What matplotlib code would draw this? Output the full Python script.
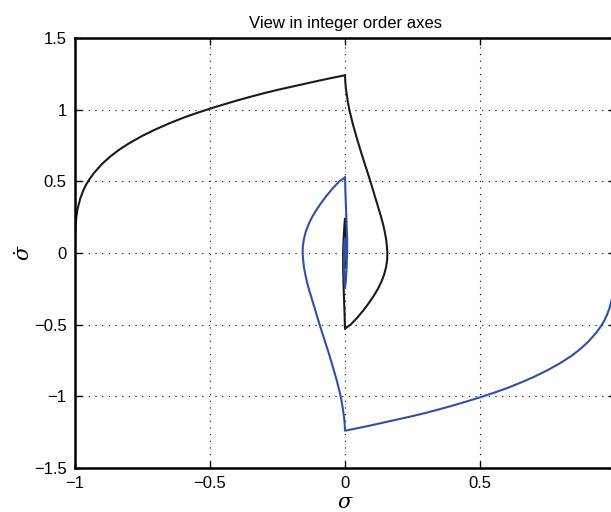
import numpy as np
import matplotlib.pyplot as plt

plt.rcParams['font.family'] = ['Liberation Sans', 'DejaVu Sans']
plt.rcParams['mathtext.fontset'] = 'dejavuserif'

# black trajectory (sigma, sigma_dot)
black_x = [-1.0, -0.999, -0.998, -0.995, -0.99, -0.98, -0.97, -0.96, -0.95, -0.93,
           -0.9, -0.87, -0.84, -0.8, -0.75, -0.7, -0.65, -0.6, -0.55, -0.5,
           -0.45, -0.4, -0.35, -0.3, -0.25, -0.2, -0.15, -0.1, -0.05, 0.0,
           0.001, 0.003, 0.007, 0.011, 0.016, 0.029, 0.044, 0.060, 0.077, 0.094,
           0.110, 0.126, 0.134, 0.141, 0.147, 0.152, 0.155, 0.157, 0.156, 0.152,
           0.145, 0.135, 0.122, 0.106, 0.088, 0.068, 0.046, 0.021, 0.005, 0.0,
           -0.002, -0.005, -0.007, -0.007, -0.005, -0.002, 0.0,
           0.003, 0.004, 0.003, 0.0, -0.001, 0.0]
black_y = [0.0, 0.156, 0.192, 0.253, 0.311, 0.383, 0.433, 0.473, 0.505, 0.558,
           0.621, 0.672, 0.716, 0.765, 0.818, 0.864, 0.905, 0.943, 0.976, 1.007,
           1.036, 1.064, 1.090, 1.115, 1.138, 1.159, 1.180, 1.201, 1.221, 1.24,
           1.2, 1.15, 1.1, 1.05, 1.0, 0.9, 0.8, 0.7, 0.6, 0.5,
           0.4, 0.3, 0.25, 0.2, 0.15, 0.1, 0.05, 0.0, -0.05, -0.1,
           -0.15, -0.2, -0.25, -0.3, -0.35, -0.4, -0.45, -0.5, -0.52, -0.53,
           -0.4, -0.25, -0.1, 0.0, 0.1, 0.2, 0.24,
           0.15, 0.05, -0.05, -0.1, 0.0, 0.05]

# blue trajectory
blue_x = [1.0, 0.999, 0.998, 0.995, 0.99, 0.98, 0.97, 0.96, 0.95, 0.93,
          0.9, 0.87, 0.84, 0.8, 0.75, 0.7, 0.65, 0.6, 0.55, 0.5,
          0.45, 0.4, 0.35, 0.3, 0.25, 0.2, 0.15, 0.1, 0.05, 0.0,
          -0.001, -0.003, -0.007, -0.011, -0.016, -0.029, -0.044, -0.060, -0.077, -0.094,
          -0.110, -0.126, -0.134, -0.141, -0.147, -0.152, -0.155, -0.157, -0.156, -0.152,
          -0.145, -0.135, -0.122, -0.106, -0.088, -0.068, -0.046, -0.021, -0.005, 0.0,
          0.002, 0.005, 0.008, 0.008, 0.006, 0.003, 0.0,
          -0.003, -0.004, -0.003, 0.0, 0.001, 0.0]
blue_y = [0.0, -0.156, -0.192, -0.253, -0.311, -0.383, -0.433, -0.473, -0.505, -0.558,
          -0.621, -0.672, -0.716, -0.765, -0.818, -0.864, -0.905, -0.943, -0.976, -1.007,
          -1.036, -1.064, -1.090, -1.115, -1.138, -1.159, -1.180, -1.201, -1.221, -1.24,
          -1.2, -1.15, -1.1, -1.05, -1.0, -0.9, -0.8, -0.7, -0.6, -0.5,
          -0.4, -0.3, -0.25, -0.2, -0.15, -0.1, -0.05, 0.0, 0.05, 0.1,
          0.15, 0.2, 0.25, 0.3, 0.35, 0.4, 0.45, 0.5, 0.52, 0.53,
          0.4, 0.25, 0.1, 0.0, -0.1, -0.2, -0.24,
          -0.15, -0.05, 0.05, 0.1, 0.0, -0.05]

xticks = [-1, -0.5, 0, 0.5, 1]
yticks = [-1.5, -1, -0.5, 0, 0.5, 1, 1.5]
xtick_labels = ['\u22121', '\u22120.5', '0', '0.5', '1']
ytick_labels = ['\u22121.5', '\u22121', '\u22120.5', '0', '0.5', '1', '1.5']

fig = plt.figure(figsize=(6.11, 5.12), dpi=100)
ax = fig.add_axes([75 / 611, 44 / 512, 540 / 611, 430 / 512])

ax.plot(black_x, black_y, color='#1a1a1a', lw=1.5)
ax.plot(blue_x, blue_y, color='#3050a8', lw=1.5)

ax.set_xlim(-1, 1)
ax.set_ylim(-1.5, 1.5)
ax.set_xticks(xticks)
ax.set_xticklabels(xtick_labels)
ax.set_yticks(yticks)
ax.set_yticklabels(ytick_labels)
ax.tick_params(direction='in', length=5, width=1, top=True, right=True,
               labelsize=12, colors='black', pad=6)
for s in ax.spines.values():
    s.set_linewidth(1.8)
ax.grid(True, color='black', linestyle=(0, (1, 5)), linewidth=0.8)

ax.set_title('View in integer order axes', fontsize=12, pad=7)
ax.set_xlabel(r'$\sigma$', fontsize=15, labelpad=1)
ax.set_ylabel(r'$\dot{\sigma}$', fontsize=15, labelpad=0)

fig.savefig('out.png', dpi=100)
